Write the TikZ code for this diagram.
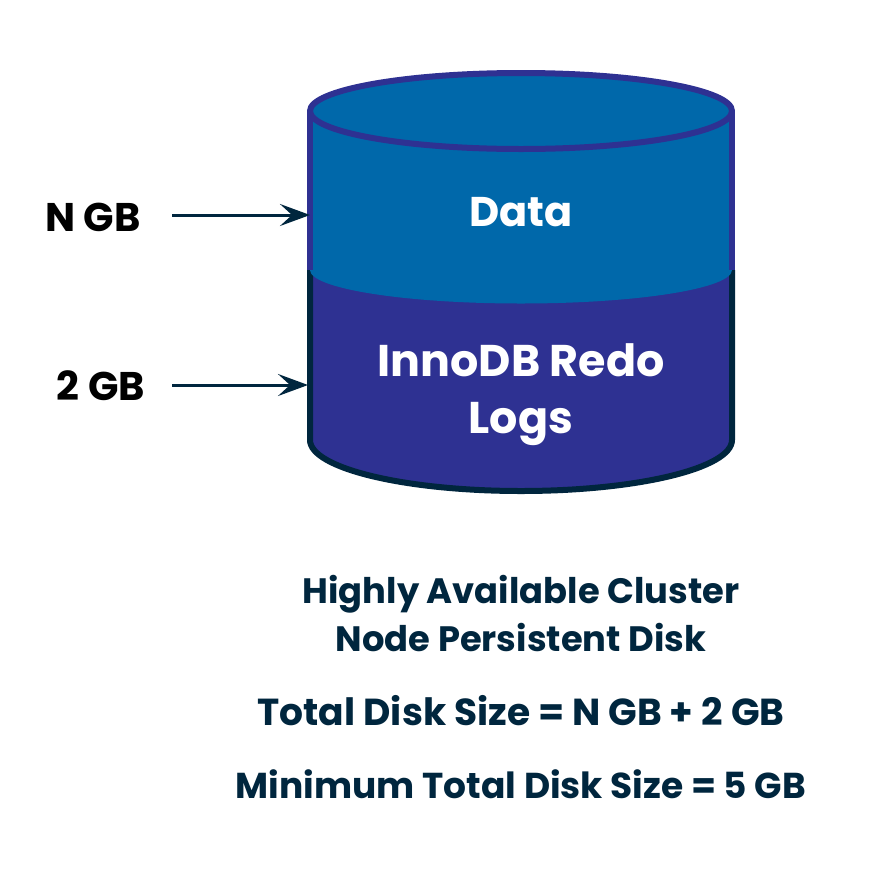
\documentclass[tikz,border=0pt]{standalone}
\usepackage{fontspec}
\setmainfont{Poppins}
\usetikzlibrary{arrows.meta,positioning}
\definecolor{datablue}{HTML}{0068AA}
\definecolor{logpurple}{HTML}{2E3192}
\definecolor{navy}{HTML}{00263E}

\begin{document}
\begin{tikzpicture}[x=1pt,y=-1pt,line join=round,
  inside/.style={font=\fontsize{44.4}{57}\selectfont\bfseries,text=white,align=center},
  size/.style={font=\fontsize{40}{40}\selectfont\bfseries,text=black},
  caption/.style={font=\fontsize{35.3}{48}\selectfont\bfseries,text=navy,align=center},
  pointer/.style={navy,line width=3pt,-{Stealth[length=30pt,width=22pt,inset=12pt]}}]
  \useasboundingbox[fill=white] (0,0) rectangle (896,868);
  % lower part of the disk
  \draw[navy,fill=logpurple,line width=6pt]
    (310,270) -- (310,440) arc[start angle=180,end angle=0,x radius=211,y radius=51] -- (732,270);
  % upper part of the disk
  \fill[datablue] (310,111) -- (310,270) arc[start angle=180,end angle=0,x radius=211,y radius=33.5] -- (732,111) -- cycle;
  \draw[logpurple,line width=6pt] (310,270) -- (310,111) (732,111) -- (732,270);
  \draw[logpurple,line width=6pt,fill=datablue] (521,111) ellipse[x radius=211,y radius=38];
  \node[inside,font=\fontsize{41.5}{57}\selectfont\bfseries] (data) at (521,212) {Data};
  \node[inside] (logs) at (521,394.5) {InnoDB Redo\\Logs};
  \node[size] (ngb) at (93,217) {N GB};
  \node[size] (twogb) at (101,386) {2 GB};
  \coordinate (nstart) at (172,215);
  \coordinate (nend) at (310,215);
  \coordinate (twostart) at (172,385);
  \coordinate (twoend) at (308,385);
  \draw[pointer] (nstart) -- (nend);
  \draw[pointer] (twostart) -- (twoend);
  \node[caption] (disk) at (521,613) {Highly Available Cluster\\Node Persistent Disk};
  \node[caption,font=\fontsize{37.6}{48}\selectfont\bfseries] (total) [below=37.5pt of disk] {Total Disk Size = N GB + 2 GB};
  \node[caption,font=\fontsize{36}{48}\selectfont\bfseries] (minimum) [below=36.5pt of total] {Minimum Total Disk Size = 5 GB};
\end{tikzpicture}
\end{document}
